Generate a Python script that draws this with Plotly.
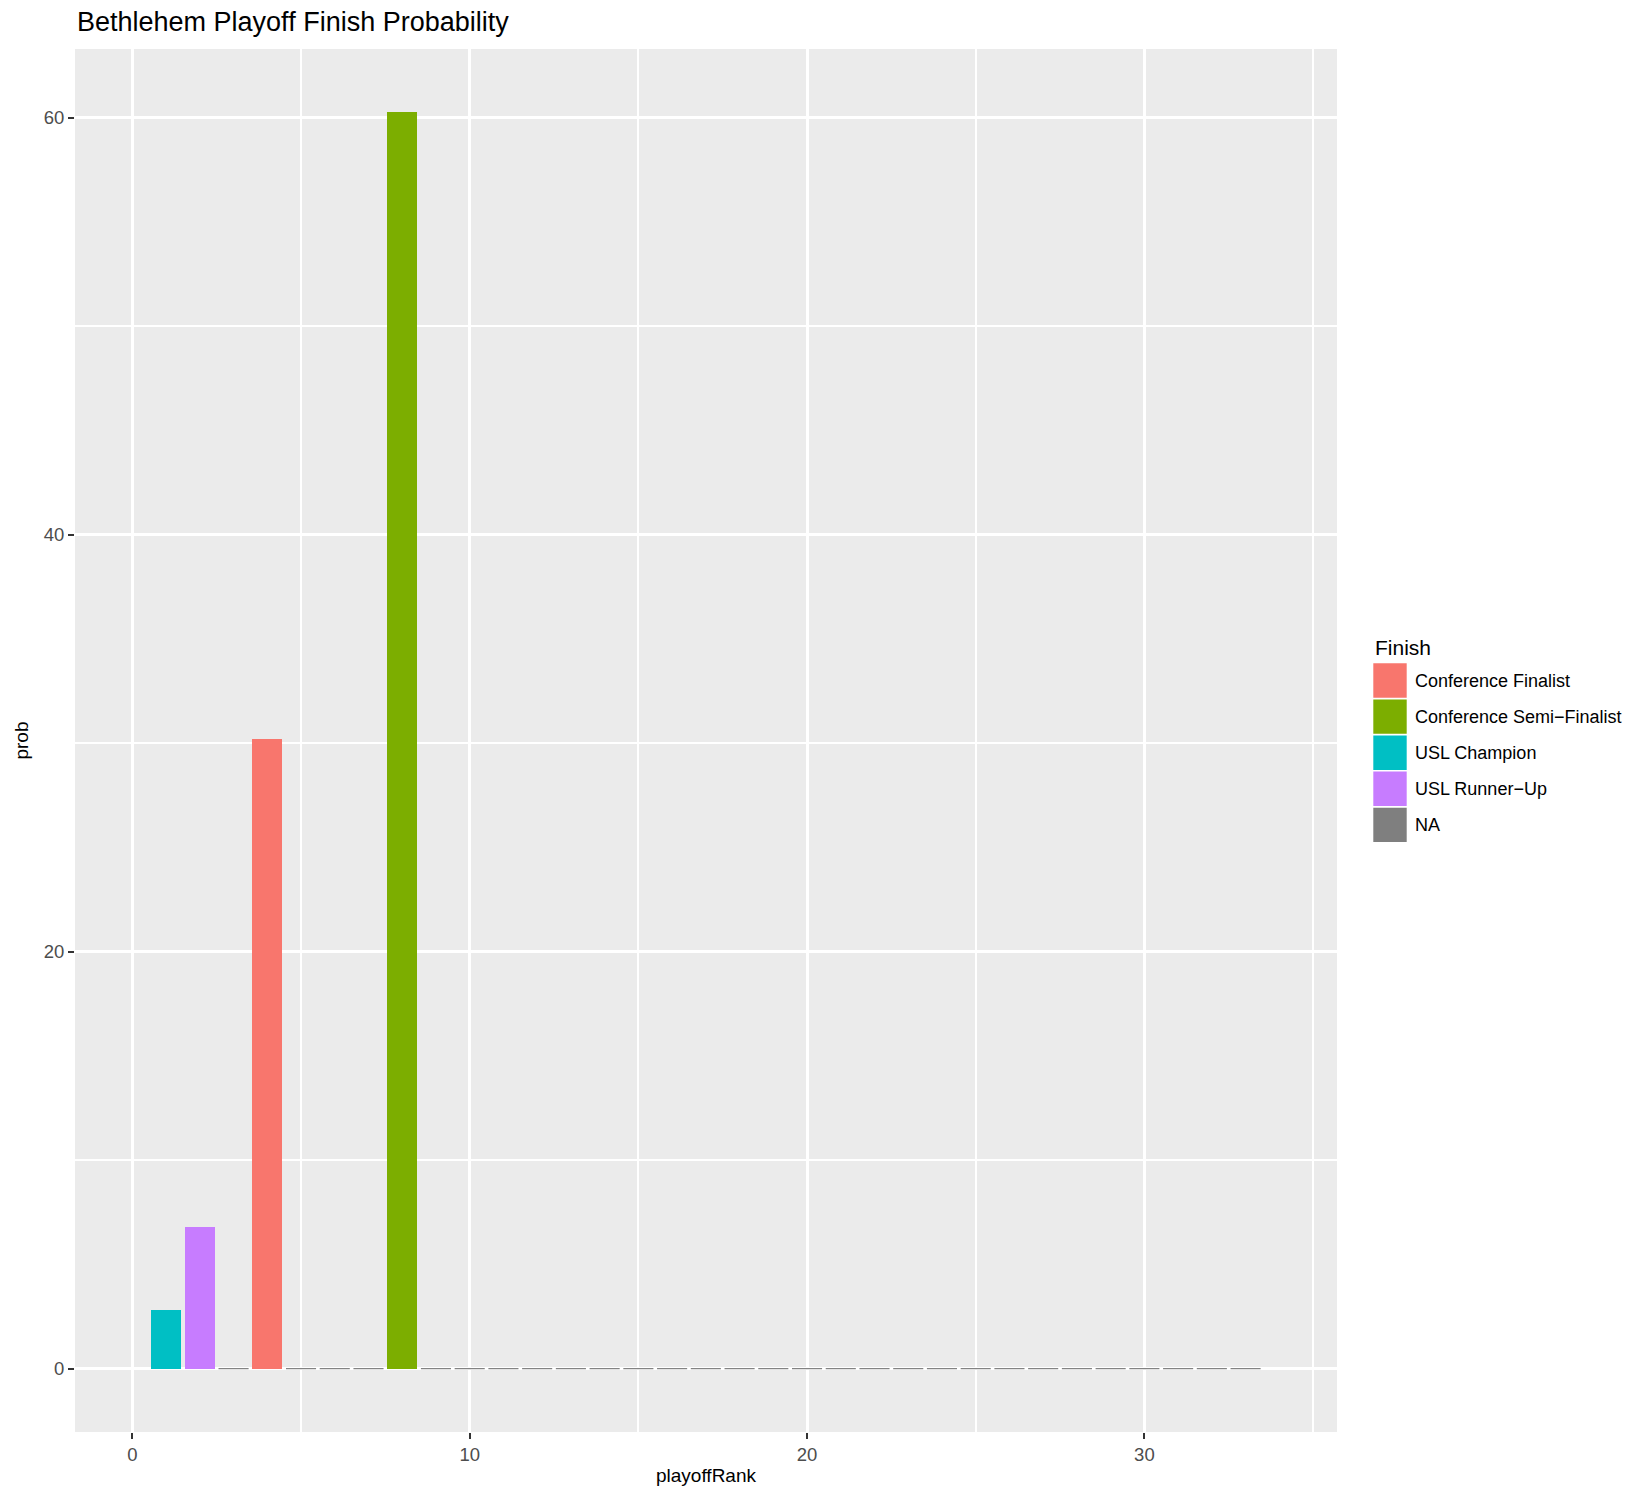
import plotly.graph_objects as go

# ---- data ----
playoff_rank = list(range(1, 34))
finish = ["USL Champion", "USL Runner-Up", None, "Conference Finalist", None, None, None,
          "Conference Semi-Finalist"] + [None] * 25
prob = [2.8, 6.8, 0, 30.2, 0, 0, 0, 60.3] + [0] * 25

legend_order = ["Conference Finalist", "Conference Semi-Finalist", "USL Champion", "USL Runner-Up", "NA"]
colors = {"Conference Finalist": "#F8766D", "Conference Semi-Finalist": "#7CAE00",
          "USL Champion": "#00BFC4", "USL Runner-Up": "#C77CFF", "NA": "#7F7F7F"}

W, H = 1650, 1500
L, R, T, B = 75, 1337, 49, 1432
FONT = "Liberation Sans, Arial, Helvetica, sans-serif"

fig = go.Figure()

for cat in legend_order[:-1]:
    xs = [r for r, f in zip(playoff_rank, finish) if f == cat]
    ys = [p for p, f in zip(prob, finish) if f == cat]
    fig.add_trace(go.Bar(x=xs, y=ys, width=0.9, name=cat, marker_color=colors[cat],
                         marker_line_width=0, showlegend=False))

# NA bars have zero height: drawn as thin gray segments at their value
na_x = [r for r, f in zip(playoff_rank, finish) if f is None]
na_y = [p for p, f in zip(prob, finish) if f is None]
fig.add_trace(go.Scatter(x=na_x, y=na_y, mode="markers", name="NA", showlegend=False,
                         marker=dict(symbol="line-ew-open", size=21.5, color=colors["NA"],
                                     line=dict(color=colors["NA"], width=1.2))))

axis_common = dict(
    showgrid=True, gridcolor="white", gridwidth=3, zeroline=False,
    ticks="outside", ticklen=6, tickwidth=2, tickcolor="#333333",
    tickfont=dict(family=FONT, size=18.5, color="#4D4D4D"),
    showline=False,
)

fig.update_xaxes(range=[-1.70, 35.71], tick0=0, dtick=10,
                 minor=dict(dtick=5, tick0=0, showgrid=True, gridcolor="white", gridwidth=1.5, ticks=""),
                 title=dict(text="playoffRank", font=dict(family=FONT, size=19, color="black"), standoff=4),
                 **axis_common)
fig.update_yaxes(range=[-3.04, 63.31], tick0=0, dtick=20,
                 minor=dict(dtick=10, tick0=0, showgrid=True, gridcolor="white", gridwidth=1.5, ticks=""),
                 title=dict(text="prob", font=dict(family=FONT, size=19, color="black"), standoff=10),
                 **axis_common)

# ---- legend (ggplot-style keys) ----
def px(x):
    return (x - L) / (R - L)

def py(y):
    return (B - y) / (B - T)

shapes = []
annotations = []
annotations.append(dict(text="Finish", x=px(1373), y=py(647), xref="paper", yref="paper",
                        xanchor="left", yanchor="middle", showarrow=False,
                        font=dict(family=FONT, size=21, color="black")))
key_top = 663.3
for i, cat in enumerate(legend_order):
    y0 = key_top + i * 36.1
    y1 = y0 + 34.4
    shapes.append(dict(type="rect", xref="paper", yref="paper",
                       x0=px(1373.3), x1=px(1406.7), y0=py(y1), y1=py(y0),
                       fillcolor=colors[cat], line=dict(width=0)))
    annotations.append(dict(text=cat.replace("-", "\u2212"), x=px(1413), y=py((y0 + y1) / 2),
                            xref="paper", yref="paper",
                            xanchor="left", yanchor="middle", showarrow=False,
                            font=dict(family=FONT, size=18, color="black")))

fig.update_layout(
    width=W, height=H,
    margin=dict(l=L, r=W - R, t=T, b=H - B, autoexpand=False),
    paper_bgcolor="white", plot_bgcolor="#EBEBEB",
    barmode="overlay", bargap=0,
    showlegend=False,
    title=dict(text="Bethlehem Playoff Finish Probability", x=77 / W, xanchor="left",
               xref="container", yref="container", y=1 - 22 / H, yanchor="middle",
               font=dict(family=FONT, size=27, color="black")),
    shapes=shapes, annotations=annotations,
    font=dict(family=FONT),
)

fig.write_html("out.html", config={"displayModeBar": False},
               post_script="document.body.style.margin='0';")
